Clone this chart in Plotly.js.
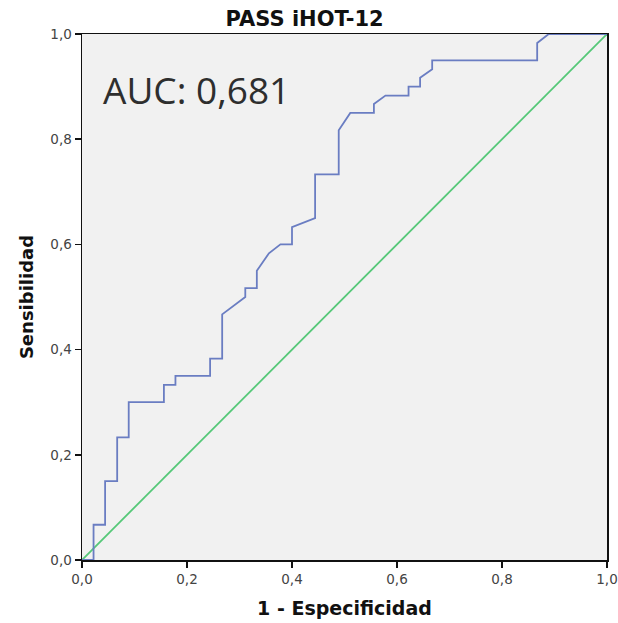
<!DOCTYPE html>
<html>
<head>
<meta charset="utf-8">
<script src="https://cdn.plot.ly/plotly-3.0.1.min.js"></script>
<style>html,body{margin:0;padding:0;background:#fff;}#chart{width:618px;height:623px;}</style>
</head>
<body>
<div id="chart"></div>
<script>
// 1 - Especificidad (false positive rate) of the ROC curve
const fpr = [0, 0.022, 0.022, 0.044, 0.044, 0.067, 0.067, 0.089, 0.089, 0.156, 0.156, 0.178, 0.178, 0.244, 0.244, 0.267, 0.267, 0.311, 0.311, 0.333, 0.333, 0.356, 0.378, 0.400, 0.400, 0.444, 0.444, 0.489, 0.489, 0.511, 0.556, 0.556, 0.578, 0.622, 0.622, 0.644, 0.644, 0.667, 0.667, 0.867, 0.867, 0.889, 1.0];
// Sensibilidad (true positive rate)
const tpr = [0, 0, 0.067, 0.067, 0.150, 0.150, 0.233, 0.233, 0.300, 0.300, 0.333, 0.333, 0.350, 0.350, 0.383, 0.383, 0.467, 0.500, 0.517, 0.517, 0.550, 0.583, 0.600, 0.600, 0.633, 0.650, 0.733, 0.733, 0.817, 0.850, 0.850, 0.867, 0.883, 0.883, 0.900, 0.900, 0.917, 0.933, 0.950, 0.950, 0.983, 1.0, 1.0];
// Reference (chance) line
const refX = [0, 1];
const refY = [0, 1];
const tickVals = [0, 0.2, 0.4, 0.6, 0.8, 1.0];
const chartTitle = 'PASS iHOT-12';
const xTitle = '1 - Especificidad';
const yTitle = 'Sensibilidad';
const aucLabel = 'AUC: 0,681';

const traces = [
  {x: refX, y: refY, type: 'scatter', mode: 'lines', line: {color: '#55c878', width: 1.8}, hoverinfo: 'skip', showlegend: false},
  {x: fpr, y: tpr, type: 'scatter', mode: 'lines', line: {color: '#6a7dc2', width: 1.8}, showlegend: false}
];

const axisCommon = {
  range: [0, 1], tickvals: tickVals, tickformat: '.1f',
  showgrid: false, zeroline: false,
  showline: true, mirror: true, linecolor: '#111', linewidth: 1.5,
  ticks: 'outside', ticklen: 6, tickwidth: 1.5, tickcolor: '#111',
  tickfont: {family: 'DejaVu Sans', size: 13.5, color: '#444'},
  ticklabeloverflow: 'allow',
  fixedrange: true
};

const layout = {
  width: 618, height: 623,
  margin: {l: 82, r: 11, t: 34, b: 63},
  paper_bgcolor: '#ffffff',
  plot_bgcolor: '#f1f1f1',
  separators: ',.',
  title: {text: chartTitle, x: 0.493, xref: 'container', xanchor: 'center', y: 0.970, yref: 'container', yanchor: 'middle',
          font: {family: 'DejaVu Sans', size: 21, color: '#111', weight: 'bold'}},
  xaxis: Object.assign({}, axisCommon, {
    title: {text: xTitle, standoff: 16, font: {family: 'DejaVu Sans', size: 19, color: '#111', weight: 'bold'}}
  }),
  yaxis: Object.assign({}, axisCommon, {
    title: {text: yTitle, standoff: 12, font: {family: 'DejaVu Sans', size: 18, color: '#111', weight: 'bold'}}
  }),
  annotations: [{
    text: aucLabel, x: 0.036, y: 0.894, xref: 'x', yref: 'y', xanchor: 'left', yanchor: 'middle',
    showarrow: false, font: {family: 'Open Sans', size: 37, color: '#2e2e2e'}
  }]
};

Plotly.newPlot('chart', traces, layout, {staticPlot: true, displayModeBar: false});
</script>
</body>
</html>
